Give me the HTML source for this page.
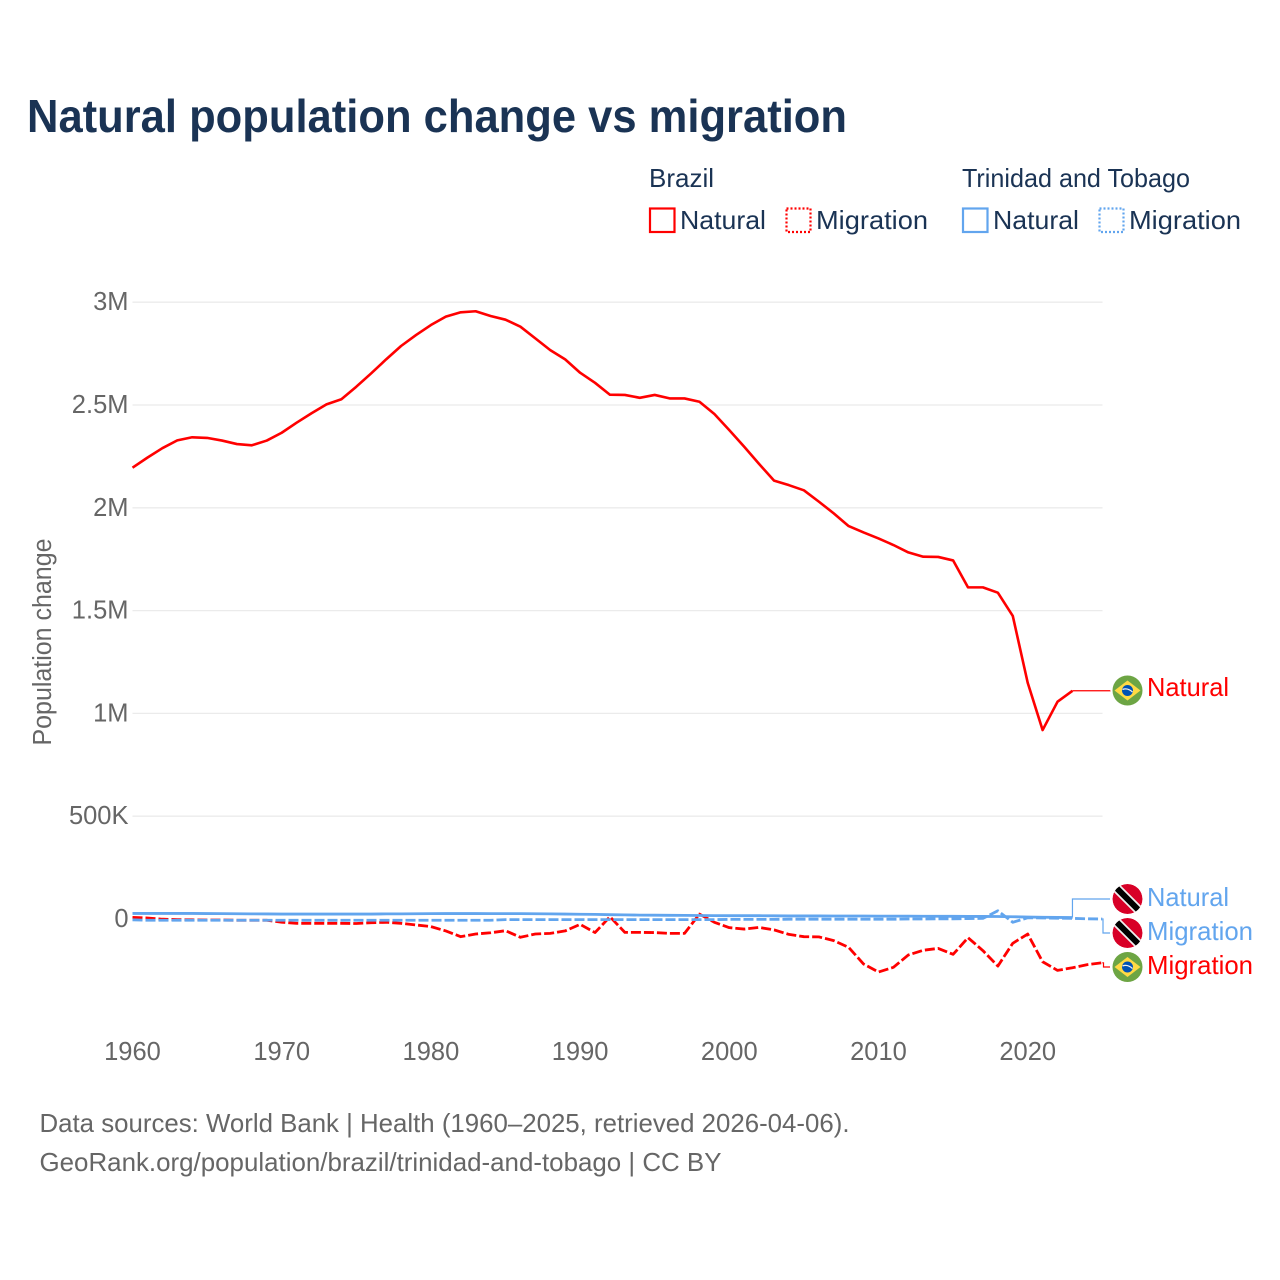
<!DOCTYPE html>
<html lang="en">
<head>
<meta charset="utf-8">
<title>Natural population change vs migration</title>
<style>
html,body{margin:0;padding:0;background:#fff;width:1280px;height:1280px;overflow:hidden}
svg{display:block}
text{font-family:"Liberation Sans",sans-serif}
</style>
</head>
<body>
<svg id="chart" xmlns="http://www.w3.org/2000/svg" width="1280" height="1280" viewBox="0 0 1280 1280">
  <text x="27" y="132" font-size="46" font-weight="700" fill="#1a3354" textLength="820" lengthAdjust="spacingAndGlyphs">Natural population change vs migration</text>

  <g font-size="26" fill="#1a3354">
    <text x="649" y="187" textLength="65" lengthAdjust="spacingAndGlyphs">Brazil</text>
    <text x="962" y="187" textLength="228" lengthAdjust="spacingAndGlyphs">Trinidad and Tobago</text>
    <rect x="650" y="208.5" width="24.5" height="23.5" fill="none" stroke="#ff0000" stroke-width="2.2"/>
    <text x="680" y="229" textLength="86" lengthAdjust="spacingAndGlyphs">Natural</text>
    <rect x="786.5" y="208.5" width="24" height="23.5" fill="none" stroke="#ff0000" stroke-width="2.2" stroke-dasharray="2 2"/>
    <text x="816" y="229" textLength="112" lengthAdjust="spacingAndGlyphs">Migration</text>
    <rect x="963" y="208.5" width="24.5" height="23.5" fill="none" stroke="#62a5ee" stroke-width="2.2"/>
    <text x="993" y="229" textLength="86" lengthAdjust="spacingAndGlyphs">Natural</text>
    <rect x="1099.5" y="208.5" width="24" height="23.5" fill="none" stroke="#62a5ee" stroke-width="2.2" stroke-dasharray="2 2"/>
    <text x="1129" y="229" textLength="112" lengthAdjust="spacingAndGlyphs">Migration</text>
  </g>

  <g id="grid"></g>
  <g id="yticks" font-size="25.5" fill="#666666" text-anchor="end"></g>
  <g id="xticks" font-size="25.5" fill="#666666" text-anchor="middle"></g>
  <text transform="translate(51 642) rotate(-90)" text-anchor="middle" font-size="25.5" fill="#666666" textLength="207" lengthAdjust="spacingAndGlyphs">Population change</text>

  <g id="series"></g>

  <defs>
    <clipPath id="flag-clip"><circle cx="0" cy="0" r="15"/></clipPath>
  </defs>
  <g transform="translate(1127.5 690.5)">
    <circle r="15" fill="#6da544"/><polygon points="0,-10 13,0 0,10 -13,0" fill="#ffda44"/><circle r="5.5" fill="#0052b4"/><path d="M-5,-1 Q0,-3 5,1.5" stroke="#f0f0f0" stroke-width="1.3" fill="none"/>
  </g>
  <g transform="translate(1127.5 899)">
    <g clip-path="url(#flag-clip)"><circle r="15" fill="#d80027"/><line x1="-15" y1="-15" x2="15" y2="15" stroke="#f0f0f0" stroke-width="9.5"/><line x1="-15" y1="-15" x2="15" y2="15" stroke="#000" stroke-width="6"/></g>
  </g>
  <g transform="translate(1127.5 933)">
    <g clip-path="url(#flag-clip)"><circle r="15" fill="#d80027"/><line x1="-15" y1="-15" x2="15" y2="15" stroke="#f0f0f0" stroke-width="9.5"/><line x1="-15" y1="-15" x2="15" y2="15" stroke="#000" stroke-width="6"/></g>
  </g>
  <g transform="translate(1127.5 967)">
    <circle r="15" fill="#6da544"/><polygon points="0,-10 13,0 0,10 -13,0" fill="#ffda44"/><circle r="5.5" fill="#0052b4"/><path d="M-5,-1 Q0,-3 5,1.5" stroke="#f0f0f0" stroke-width="1.3" fill="none"/>
  </g>

  <g font-size="26">
    <text x="1147" y="696" fill="#ff0000" textLength="82" lengthAdjust="spacingAndGlyphs">Natural</text>
    <text x="1147" y="906" fill="#62a5ee" textLength="82" lengthAdjust="spacingAndGlyphs">Natural</text>
    <text x="1147" y="940" fill="#62a5ee" textLength="106" lengthAdjust="spacingAndGlyphs">Migration</text>
    <text x="1147" y="974" fill="#ff0000" textLength="106" lengthAdjust="spacingAndGlyphs">Migration</text>
  </g>

  <g font-size="26" fill="#666666">
    <text x="39.5" y="1132" textLength="810" lengthAdjust="spacingAndGlyphs">Data sources: World Bank | Health (1960–2025, retrieved 2026-04-06).</text>
    <text x="39.5" y="1171" textLength="682" lengthAdjust="spacingAndGlyphs">GeoRank.org/population/brazil/trinidad-and-tobago | CC BY</text>
  </g>
</svg>
<script>
const startYear = 1960;
const xTickYears = [1960, 1970, 1980, 1990, 2000, 2010, 2020];
const yTickValues = [0, 500000, 1000000, 1500000, 2000000, 2500000, 3000000];
const yTickLabels = ["0", "500K", "1M", "1.5M", "2M", "2.5M", "3M"];

// Values in thousands, one per year from 1960.
const brazilNatural = [
  2195, 2244, 2290, 2328, 2343, 2340, 2327, 2310, 2304, 2327,
  2365, 2414, 2460, 2503, 2528, 2589, 2654, 2722, 2787, 2840,
  2889, 2930, 2951, 2956, 2933, 2915, 2881, 2824, 2767, 2722,
  2657, 2608, 2550, 2549, 2535, 2549, 2532, 2532, 2516, 2456,
  2378, 2297, 2213, 2132, 2110, 2085, 2030, 1973, 1911, 1880,
  1851, 1819, 1783, 1762, 1761, 1744, 1613, 1613, 1587, 1474,
  1149, 919, 1057, 1110
];
const brazilMigration = [
  8, 5, -1, -3, -4, -5, -5, -6, -6, -6,
  -16, -21, -21, -21, -21, -22, -18, -16, -21, -29,
  -37, -58, -86, -73, -67, -57, -89, -73, -70, -58,
  -26, -66, 11, -65, -65, -66, -70, -70, 24, -16,
  -42, -49, -41, -53, -75, -86, -87, -105, -138, -219,
  -258, -235, -175, -152, -143, -172, -91, -154, -229, -118,
  -73, -208, -250, -237, -222, -213
];
const trinidadNatural = [
  27, 27, 27, 27, 27, 26.5, 26, 25.5, 25, 24.5,
  24, 24, 24, 24, 24, 24, 24, 25, 25, 25.5,
  26, 26.5, 26.5, 26.5, 26, 26, 26, 25.5, 25, 24,
  23, 22.5, 21, 20, 19, 18.5, 18, 17.5, 17, 16.5,
  16, 16, 16, 15.5, 15, 15, 15, 14.5, 14.5, 14.5,
  14, 14, 14, 13.5, 13.5, 13, 12.5, 12.5, 12, 11,
  9.5, 8.5, 7.5, 7
];
const trinidadMigration = [
  -4, -6, -6, -6, -6, -6, -6, -6, -6, -6,
  -6, -6, -6, -6, -6, -6, -6, -6, -6, -6,
  -6, -6, -6, -6, -6, -3, -3, -3, -3, -3,
  -3, -3, -3, -3, -3, -3, -3, -3, -3, -3,
  -2, -2, -2, -2, -1, -1, -1, -1, -1, -1,
  -1, -1, 0, 0, 1, 1, 2, 3, 40, -16,
  6, 5, 4, 3, 1, 0
];

const SVG_NS = "http://www.w3.org/2000/svg";
const xScale = function (year) { return 132.5 + (year - 1960) * 14.92; };
const yScale = function (value) { return 919 - value * 0.2056; }; // value in thousands

function lineFrom(values, color, dash, width) {
  const d = values.map(function (v, i) {
    return (i ? "L" : "M") + xScale(startYear + i).toFixed(2) + " " + yScale(v).toFixed(2);
  }).join(" ");
  const path = document.createElementNS(SVG_NS, "path");
  path.setAttribute("d", d);
  path.setAttribute("fill", "none");
  path.setAttribute("stroke", color);
  path.setAttribute("stroke-width", width);
  path.setAttribute("stroke-linejoin", "round");
  if (dash) path.setAttribute("stroke-dasharray", dash);
  return path;
}

function connectorFrom(values, labelY, color, elbowX) {
  const lastX = xScale(startYear + values.length - 1);
  const lastY = yScale(values[values.length - 1]);
  const path = document.createElementNS(SVG_NS, "path");
  path.setAttribute("d", "M" + lastX.toFixed(2) + " " + lastY.toFixed(2) + " H" + elbowX.toFixed(2) + " V" + labelY + " H1110");
  path.setAttribute("fill", "none");
  path.setAttribute("stroke", color);
  path.setAttribute("stroke-width", 1.2);
  return path;
}

const grid = document.getElementById("grid");
const yticks = document.getElementById("yticks");
yTickValues.forEach(function (v, i) {
  if (v !== 0) {
    const gl = document.createElementNS(SVG_NS, "line");
    
    
    gl.setAttribute("x1", 132.5);
    gl.setAttribute("x2", 1102.5);
    gl.setAttribute("y1", yScale(v / 1000));
    gl.setAttribute("y2", yScale(v / 1000));
    gl.setAttribute("stroke", "#ebebeb");
    gl.setAttribute("stroke-width", 1.3);
    grid.appendChild(gl);
  }
  const t = document.createElementNS(SVG_NS, "text");
  
  
  t.setAttribute("x", 128.5);
  t.setAttribute("y", yScale(v / 1000) + 8);
  t.textContent = yTickLabels[i];
  yticks.appendChild(t);
});

const xticks = document.getElementById("xticks");
xTickYears.forEach(function (y) {
  const t = document.createElementNS(SVG_NS, "text");
  
  
  t.setAttribute("x", xScale(y));
  t.setAttribute("y", 1060);
  t.textContent = y;
  xticks.appendChild(t);
});

const series = document.getElementById("series");
const RED = "#ff0000";
const BLUE = "#62a5ee";

const c1 = connectorFrom(brazilNatural, 690.5, RED, 1110);


series.appendChild(c1);

const c2 = connectorFrom(brazilMigration, 967, RED, 1103.5);


series.appendChild(c2);

const c3 = connectorFrom(trinidadNatural, 899, BLUE, xScale(startYear + trinidadNatural.length - 1));


series.appendChild(c3);

const c4 = connectorFrom(trinidadMigration, 933, BLUE, 1103);


series.appendChild(c4);

const l1 = lineFrom(brazilNatural, RED, null, 2.6);


series.appendChild(l1);

const l2 = lineFrom(brazilMigration, RED, "10 3", 2.8);


series.appendChild(l2);

const l3 = lineFrom(trinidadNatural, BLUE, null, 2.8);


series.appendChild(l3);

const l4 = lineFrom(trinidadMigration, BLUE, "10 3", 2.8);


series.appendChild(l4);
</script>
</body>
</html>
